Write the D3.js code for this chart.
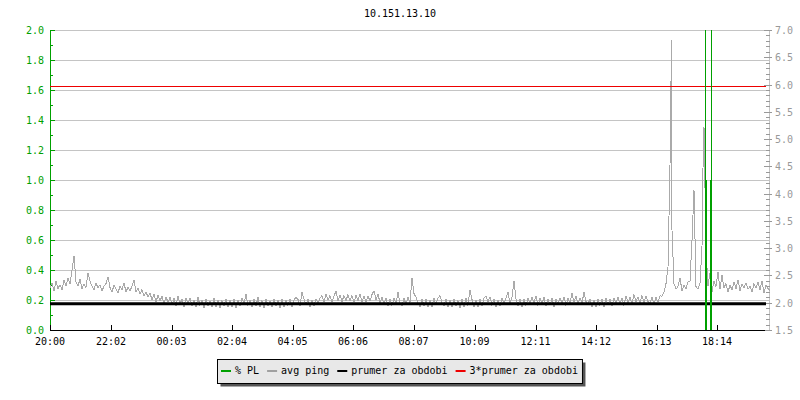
<!DOCTYPE html>
<html>
<head>
<meta charset="utf-8">
<script src="https://cdn.jsdelivr.net/npm/d3@7"></script>
<style>
  body { margin: 0; background: #fff; }
  text { font-family: "DejaVu Sans Mono", monospace; font-size: 10px; }
</style>
</head>
<body>
<div id="graf"></div>
<script>
// avg ping, one value every 4 minutes from 20:00 (right axis)
var avgPing = [
  2.28, 2.36, 2.22, 2.40, 2.26, 2.33, 2.24, 2.42, 2.30, 2.45,
  2.35, 2.60, 2.86, 2.38, 2.30, 2.44, 2.26, 2.34, 2.28, 2.55,
  2.40, 2.30, 2.24, 2.36, 2.27, 2.33, 2.22, 2.30, 2.35, 2.47,
  2.28, 2.20, 2.32, 2.25, 2.18, 2.30, 2.24, 2.36, 2.20, 2.28,
  2.22, 2.30, 2.42, 2.20, 2.26, 2.16, 2.24, 2.12, 2.20, 2.10,
  2.18, 2.05, 2.16, 2.01, 2.14, 2.03, 2.12, 1.99, 2.11, 2.01,
  2.10, 1.96, 2.08, 1.94, 2.12, 1.98, 2.06, 1.93, 2.09, 1.97,
  2.08, 1.94, 2.05, 1.92, 2.10, 1.95, 2.04, 1.91, 2.07, 1.95,
  2.03, 1.92, 2.08, 1.93, 2.05, 1.90, 2.04, 1.94, 2.07, 1.92,
  2.04, 1.93, 2.06, 1.91, 2.05, 1.94, 2.08, 1.98, 2.16, 1.95,
  2.05, 1.92, 2.07, 1.94, 2.10, 1.93, 2.04, 1.91, 2.06, 1.95,
  2.03, 1.92, 2.07, 1.94, 2.05, 1.91, 2.06, 1.93, 2.04, 1.95,
  2.07, 1.93, 2.05, 2.10, 2.06, 1.94, 2.19, 2.07, 1.96, 2.06,
  1.93, 2.05, 1.94, 2.07, 1.98, 2.09, 2.13, 2.02, 2.15, 2.05,
  2.13, 2.02, 2.12, 2.22, 2.04, 2.14, 2.02, 2.13, 2.04, 2.15,
  2.03, 2.13, 2.01, 2.14, 2.04, 2.16, 2.02, 2.12, 2.01, 2.13,
  2.03, 2.15, 2.22, 2.05, 2.16, 2.00, 2.10, 1.97, 2.08, 1.94,
  2.07, 1.95, 2.09, 1.98, 2.19, 2.00, 1.94, 2.08, 1.97, 2.10,
  2.00, 2.46, 2.17, 2.10, 1.99, 1.93, 2.07, 1.94, 2.06, 1.92,
  2.05, 1.93, 2.08, 1.96, 2.09, 2.13, 2.00, 1.94, 2.07, 1.93,
  2.05, 1.92, 2.07, 1.94, 2.04, 1.91, 2.06, 1.93, 2.08, 1.95,
  2.24, 2.06, 1.93, 2.05, 1.92, 2.06, 1.94, 2.09, 2.12, 2.01,
  2.11, 1.95, 2.07, 1.93, 2.05, 1.94, 2.08, 1.97, 2.09, 2.19,
  2.00, 2.10, 2.40, 2.07, 1.95, 2.07, 1.93, 2.06, 1.95, 2.08,
  1.99, 2.11, 2.00, 2.13, 1.95, 2.08, 1.98, 2.10, 1.94, 2.07,
  1.96, 2.08, 1.93, 2.06, 1.97, 2.09, 1.99, 2.11, 1.95, 2.08,
  1.99, 2.18, 2.01, 2.12, 1.98, 2.09, 2.00, 2.19, 2.02, 1.97,
  2.07, 1.93, 2.05, 1.92, 2.07, 1.95, 2.06, 1.93, 2.08, 1.96,
  2.07, 1.94, 2.09, 1.98, 2.11, 1.97, 2.08, 1.95, 2.13, 2.00,
  2.10, 1.98, 2.15, 2.01, 2.11, 1.99, 2.13, 2.00, 2.12, 2.02,
  1.99, 2.11, 1.97, 2.10, 2.01, 2.13, 2.12, 2.20, 2.35, 2.65,
  4.52, 3.33, 2.35, 2.25, 2.30, 2.45, 2.22, 2.32, 2.26, 2.38,
  2.40, 3.15, 4.07, 2.30, 2.25, 2.35, 3.02, 5.22, 3.00, 2.30,
  2.55, 2.20, 2.40, 2.30, 2.56, 2.25, 2.50, 2.28, 2.35, 2.20,
  2.32, 2.24, 2.38, 2.26, 2.42, 2.22, 2.34, 2.28, 2.36, 2.25,
  2.30, 2.20, 2.35, 2.27, 2.38, 2.24, 2.40, 2.18, 2.32, 2.26,
  2.22
];
var pingStep = 4;
// short peaks between the samples [minute, value]
var pingPeaks = [[1243, 6.82], [1306, 4.47]];

// % PL [minute, value] (left axis)
var packetLoss = [[1310, 3.0], [1311, 1.0], [1312, 1.0], [1320, 1.0], [1322, 1.0], [1322, 3.0]];

var prumer = 1.98;      // right axis
var prumer3 = 5.98;     // right axis

var xTickMin = [0, 122, 243, 364, 485, 606, 727, 849, 971, 1092, 1213, 1334];
var xTickLab = ["20:00", "22:02", "00:03", "02:04", "04:05", "06:06", "08:07", "10:09", "12:11", "14:12", "16:13", "18:14"];
var leftTicks = [0, 0.2, 0.4, 0.6, 0.8, 1.0, 1.2, 1.4, 1.6, 1.8, 2.0];
var leftLab = ["0.0", "0.2", "0.4", "0.6", "0.8", "1.0", "1.2", "1.4", "1.6", "1.8", "2.0"];
var rightTicks = [1.5, 2.0, 2.5, 3.0, 3.5, 4.0, 4.5, 5.0, 5.5, 6.0, 6.5, 7.0];
var rightLab = ["1.5", "2.0", "2.5", "3.0", "3.5", "4.0", "4.5", "5.0", "5.5", "6.0", "6.5", "7.0"];

var legendNames = ["% PL", "avg ping", "prumer za obdobi", "3*prumer za obdobi"];
var legendColors = ["#00a000", "#a0a0a0", "#000000", "#ee0000"];

var W = 800, H = 400;
var pLeft = 50, pRight = 770, pTop = 30, pBottom = 330;
var green = "#00a000", grid = "#c4c4c4", grey = "#999999";

var x = d3.scaleLinear().domain([0, 1440]).range([pLeft, pRight]);
var yL = d3.scaleLinear().domain([0, 2]).range([pBottom, pTop]);
var yR = d3.scaleLinear().domain([1.5, 7]).range([pBottom, pTop]);

function crisp(v) { return Math.round(v) + 0.5; }

var svg = d3.select("#graf").append("svg")
  .attr("width", W)
  .attr("height", H);

// title
svg.append("text")
  .attr("x", W / 2)
  .attr("y", 17)
  .attr("text-anchor", "middle")
  .attr("fill", "#000")
  .text("10.151.13.10");

// horizontal grid
svg.append("g").selectAll("line")
  .data(leftTicks.slice(1))
  .enter().append("line")
    .attr("x1", pLeft).attr("x2", pRight)
    .attr("y1", function(d) { return crisp(yL(d)); })
    .attr("y2", function(d) { return crisp(yL(d)); })
    .attr("stroke", grid);

// left axis (green)
var gl = svg.append("g");
gl.append("line")
  .attr("x1", pLeft + 0.5).attr("x2", pLeft + 0.5)
  .attr("y1", pTop).attr("y2", pBottom + 1)
  .attr("stroke", green);
gl.selectAll(".minor")
  .data(d3.range(0.1, 2, 0.2))
  .enter().append("line")
    .attr("x1", pLeft).attr("x2", pLeft + 3)
    .attr("y1", function(d) { return crisp(yL(d)); })
    .attr("y2", function(d) { return crisp(yL(d)); })
    .attr("stroke", green);
gl.selectAll(".major")
  .data(leftTicks)
  .enter().append("line")
    .attr("x1", pLeft).attr("x2", pLeft + 5)
    .attr("y1", function(d) { return crisp(yL(d)); })
    .attr("y2", function(d) { return crisp(yL(d)); })
    .attr("stroke", green);
gl.selectAll("text")
  .data(leftTicks)
  .enter().append("text")
    .attr("x", pLeft - 6)
    .attr("y", function(d) { return yL(d) + 4; })
    .attr("text-anchor", "end")
    .attr("fill", green)
    .text(function(d, i) { return leftLab[i]; });

// right axis (grey)
var gr = svg.append("g");
gr.append("line")
  .attr("x1", pRight - 0.5).attr("x2", pRight - 0.5)
  .attr("y1", pTop).attr("y2", pBottom + 1)
  .attr("stroke", grid);
gr.selectAll(".minor")
  .data(d3.range(1.5, 7.05, 0.1))
  .enter().append("line")
    .attr("x1", pRight - 4).attr("x2", pRight)
    .attr("y1", function(d) { return crisp(yR(d)); })
    .attr("y2", function(d) { return crisp(yR(d)); })
    .attr("stroke", grey);
gr.selectAll(".major")
  .data(rightTicks)
  .enter().append("line")
    .attr("x1", pRight - 6).attr("x2", pRight + 2)
    .attr("y1", function(d) { return crisp(yR(d)); })
    .attr("y2", function(d) { return crisp(yR(d)); })
    .attr("stroke", grey);
gr.selectAll("text")
  .data(rightTicks)
  .enter().append("text")
    .attr("x", pRight + 5)
    .attr("y", function(d) { return yR(d) + 4; })
    .attr("fill", grey)
    .text(function(d, i) { return rightLab[i]; });

// avg ping line, samples merged with the short peaks
var pingData = avgPing.map(function(v, i) { return [i * pingStep, v]; })
  .concat(pingPeaks)
  .sort(function(a, b) { return a[0] - b[0]; });

svg.append("path")
  .datum(pingData)
  .attr("fill", "none")
  .attr("stroke", "#aaaaaa")
  .attr("stroke-width", 1)
  .attr("shape-rendering", "crispEdges")
  .attr("d", d3.line()
    .x(function(d) { return x(d[0]); })
    .y(function(d) { return yR(d[1]); }));

// prumer + 3*prumer
svg.append("line")
  .attr("x1", pLeft).attr("x2", pRight - 4)
  .attr("y1", yR(prumer)).attr("y2", yR(prumer))
  .attr("stroke", "#000")
  .attr("stroke-width", 3);
svg.append("line")
  .attr("x1", pLeft).attr("x2", pRight - 4)
  .attr("y1", crisp(yR(prumer3))).attr("y2", crisp(yR(prumer3)))
  .attr("stroke", "#ee0000");

// % PL
svg.append("g").selectAll("line")
  .data(packetLoss)
  .enter().append("line")
    .attr("x1", function(d) { return crisp(x(d[0])); })
    .attr("x2", function(d) { return crisp(x(d[0])); })
    .attr("y1", yL(0))
    .attr("y2", function(d) { return yL(Math.min(d[1], 2)); })
    .attr("stroke", green);

// x axis
var gx = svg.append("g");
gx.append("line")
  .attr("x1", pLeft).attr("x2", pRight - 5)
  .attr("y1", pBottom + 0.5).attr("y2", pBottom + 0.5)
  .attr("stroke", "#000");
gx.selectAll(".tick")
  .data(xTickMin)
  .enter().append("line")
    .attr("x1", function(d) { return crisp(x(d)); })
    .attr("x2", function(d) { return crisp(x(d)); })
    .attr("y1", pBottom - 5).attr("y2", pBottom)
    .attr("stroke", "#000");
gx.selectAll("text")
  .data(xTickMin)
  .enter().append("text")
    .attr("x", function(d) { return x(d); })
    .attr("y", 345)
    .attr("text-anchor", "middle")
    .attr("fill", "#000")
    .text(function(d, i) { return xTickLab[i]; });

// legend
var lg = svg.append("g");
var shadow = lg.append("rect").attr("fill", "#555");
var box = lg.append("rect").attr("fill", "#e8e8e8").attr("stroke", "#000");
var lx = 221, ly = 371;
legendNames.forEach(function(name, i) {
  lg.append("rect")
    .attr("x", lx).attr("y", ly - 1)
    .attr("width", 10).attr("height", 2)
    .attr("fill", legendColors[i]);
  var t = lg.append("text")
    .attr("x", lx + 14)
    .attr("y", ly + 3)
    .attr("fill", "#000")
    .text(name);
  lx = lx + 14 + t.node().getComputedTextLength() + 8;
});
var bx = 217.5, bw = lx - 8 + 4 - 217;
box.attr("x", bx).attr("y", 359.5).attr("width", bw).attr("height", 24);
shadow.attr("x", bx + 3).attr("y", 362.5).attr("width", bw).attr("height", 24);
</script>
</body>
</html>
